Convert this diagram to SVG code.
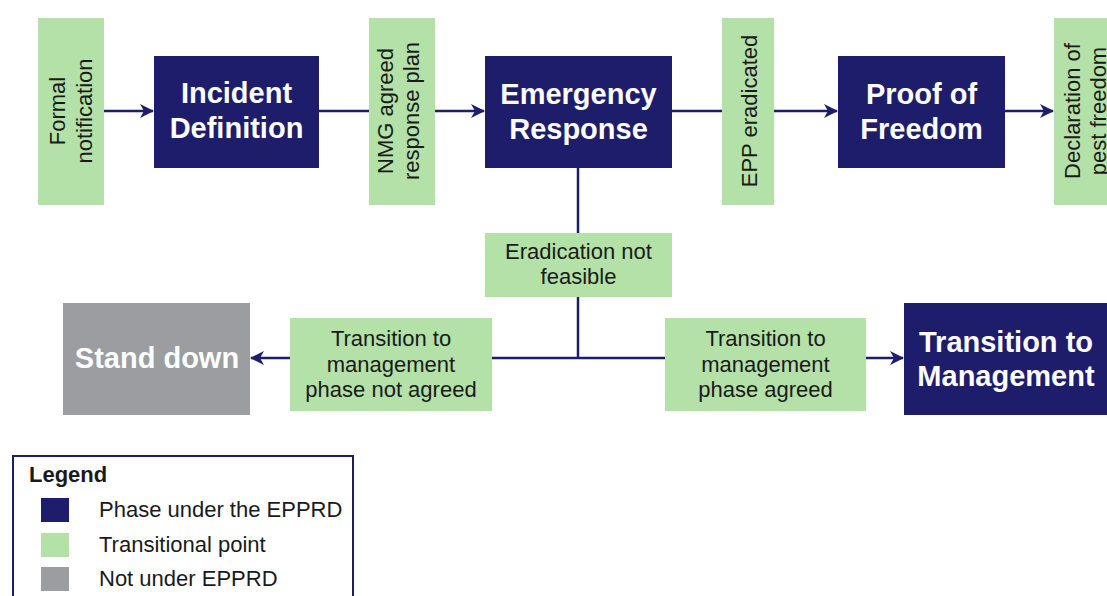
<svg xmlns="http://www.w3.org/2000/svg" width="1107" height="596" viewBox="0 0 1107 596">
<style>
.phase{fill:#1e1d6c}
.trans{fill:#b3e1a8}
.grey{fill:#9b9da1}
.bt{font-family:"Liberation Sans",Arial,sans-serif;font-weight:bold;font-size:29px;fill:#ffffff;text-anchor:middle}
.gt{font-family:"Liberation Sans",Arial,sans-serif;font-size:22px;fill:#1a1a1a;text-anchor:middle}
.vt{font-family:"Liberation Sans",Arial,sans-serif;font-size:22px;fill:#1a1a1a;text-anchor:middle}
.lt{font-family:"Liberation Sans",Arial,sans-serif;font-size:22px;fill:#1a1a1a}
.line{stroke:#1e1d6c;stroke-width:2.5;fill:none}
</style>
<defs>
<marker id="ah" markerWidth="14" markerHeight="14" refX="13" refY="7" orient="auto" markerUnits="userSpaceOnUse">
<path d="M0,0 L14,7 L0,14 L4,7 Z" fill="#1e1d6c"/>
</marker>
</defs>
<rect width="1107" height="596" fill="#ffffff"/>

<g id="connectors">
<line class="line" x1="104" y1="111" x2="153" y2="111" marker-end="url(#ah)"/>
<line class="line" x1="319" y1="111" x2="369" y2="111"/>
<line class="line" x1="435" y1="111" x2="484" y2="111" marker-end="url(#ah)"/>
<line class="line" x1="672" y1="111" x2="722" y2="111"/>
<line class="line" x1="774" y1="111" x2="837" y2="111" marker-end="url(#ah)"/>
<line class="line" x1="1005" y1="111" x2="1053" y2="111" marker-end="url(#ah)"/>
<line class="line" x1="578" y1="168" x2="578" y2="233"/>
<line class="line" x1="578" y1="297" x2="578" y2="358"/>
<line class="line" x1="492" y1="358" x2="665" y2="358"/>
<line class="line" x1="290" y1="358" x2="251" y2="358" marker-end="url(#ah)"/>
<line class="line" x1="866" y1="358" x2="903" y2="358" marker-end="url(#ah)"/>
</g>

<g id="formal-notification">
<rect class="trans" x="38" y="18" width="66" height="187"/>
<text class="vt" transform="translate(0,111) rotate(-90)"><tspan x="0" y="65">Formal</tspan><tspan x="0" y="92">notification</tspan></text>
</g>

<g id="incident-definition">
<rect class="phase" x="154" y="56" width="165" height="112"/>
<text class="bt"><tspan x="236.5" y="103">Incident</tspan><tspan x="236.5" y="138">Definition</tspan></text>
</g>

<g id="nmg-agreed">
<rect class="trans" x="369" y="18" width="66" height="187"/>
<text class="vt" transform="translate(0,111) rotate(-90)"><tspan x="0" y="393">NMG agreed</tspan><tspan x="0" y="419">response plan</tspan></text>
</g>

<g id="emergency-response">
<rect class="phase" x="485" y="56" width="187" height="112"/>
<text class="bt"><tspan x="578.5" y="104">Emergency</tspan><tspan x="578.5" y="139">Response</tspan></text>
</g>

<g id="epp-eradicated">
<rect class="trans" x="722" y="18" width="52" height="187"/>
<text class="vt" transform="translate(0,111) rotate(-90)"><tspan x="0" y="757">EPP eradicated</tspan></text>
</g>

<g id="proof-of-freedom">
<rect class="phase" x="838" y="56" width="167" height="112"/>
<text class="bt"><tspan x="921.5" y="104">Proof of</tspan><tspan x="921.5" y="139">Freedom</tspan></text>
</g>

<g id="declaration-of-pest-freedom">
<rect class="trans" x="1054" y="18" width="66" height="187"/>
<text class="vt" transform="translate(0,111) rotate(-90)"><tspan x="0" y="1080">Declaration of</tspan><tspan x="0" y="1106">pest freedom</tspan></text>
</g>

<g id="eradication-not-feasible">
<rect class="trans" x="485" y="233" width="187" height="64"/>
<text class="gt"><tspan x="578.5" y="259">Eradication not</tspan><tspan x="578.5" y="284">feasible</tspan></text>
</g>

<g id="transition-not-agreed">
<rect class="trans" x="290" y="318" width="202" height="93"/>
<text class="gt"><tspan x="391" y="346">Transition to</tspan><tspan x="391" y="372">management</tspan><tspan x="391" y="397">phase not agreed</tspan></text>
</g>

<g id="stand-down">
<rect class="grey" x="63" y="303" width="187" height="112"/>
<text class="bt" x="157" y="368">Stand down</text>
</g>

<g id="transition-agreed">
<rect class="trans" x="665" y="318" width="201" height="93"/>
<text class="gt"><tspan x="765.5" y="346">Transition to</tspan><tspan x="765.5" y="372">management</tspan><tspan x="765.5" y="397">phase agreed</tspan></text>
</g>

<g id="transition-to-management">
<rect class="phase" x="904" y="303" width="203" height="112"/>
<text class="bt"><tspan x="1006" y="352">Transition to</tspan><tspan x="1006" y="386">Management</tspan></text>
</g>

<g id="legend">
<rect x="13" y="456" width="340" height="160" fill="#ffffff" stroke="#1e1d6c" stroke-width="2"/>
<text class="lt" x="29" y="482" font-weight="bold" font-size="24">Legend</text>
<rect class="phase" x="41" y="498" width="28" height="24"/>
<text class="lt" x="99" y="517">Phase under the EPPRD</text>
<rect class="trans" x="41" y="533" width="28" height="24"/>
<text class="lt" x="99" y="552">Transitional point</text>
<rect class="grey" x="41" y="567" width="28" height="24"/>
<text class="lt" x="99" y="586">Not under EPPRD</text>
</g>
</svg>
